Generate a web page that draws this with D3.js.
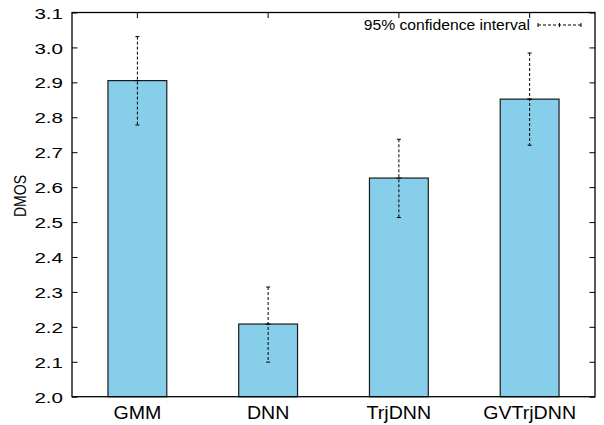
<!DOCTYPE html>
<html>
<head>
<meta charset="utf-8">
<script src="https://cdn.jsdelivr.net/npm/d3@7"></script>
<style>
  html, body { margin: 0; padding: 0; background: #fff; }
  svg text { font-family: "Liberation Sans", Arial, Helvetica, sans-serif; fill: #000; }
</style>
</head>
<body>
<svg id="chart" width="604" height="425"></svg>
<script>
const categories = ["GMM", "DNN", "TrjDNN", "GVTrjDNN"];
const dmos = [2.905, 2.208, 2.626, 2.852];
const ciLow = [2.778, 2.099, 2.513, 2.720];
const ciHigh = [3.031, 2.314, 2.737, 2.984];
const yTicks = [2.0, 2.1, 2.2, 2.3, 2.4, 2.5, 2.6, 2.7, 2.8, 2.9, 3.0, 3.1];
const legendLabel = "95% confidence interval";
const yLabel = "DMOS";

const svg = d3.select("#chart");
const L = 72, R = 595, T = 12.5, B = 396.7;

const x = d3.scaleBand().domain(categories).range([L, R]).paddingInner(0.55).paddingOuter(0.275);
const y = d3.scaleLinear().domain([2.0, 3.1]).range([B, T]);

// Axes (gnuplot style: inward ticks, mirrored)
const tickLen = 5.5;
const gL = svg.append("g").attr("transform", `translate(${L},0)`)
  .call(d3.axisLeft(y).tickValues(yTicks).tickFormat(d3.format(".1f")).tickSizeInner(-tickLen).tickSizeOuter(0).tickPadding(9));
const gR = svg.append("g").attr("transform", `translate(${R},0)`)
  .call(d3.axisRight(y).tickValues(yTicks).tickFormat("").tickSizeInner(-tickLen).tickSizeOuter(0));
const gT = svg.append("g").attr("transform", `translate(0,${T})`)
  .call(d3.axisTop(x).tickFormat("").tickSizeInner(-tickLen).tickSizeOuter(0));
const gB = svg.append("g").attr("transform", `translate(0,${B})`)
  .call(d3.axisBottom(x).tickSizeInner(-tickLen).tickSizeOuter(0).tickPadding(10));

[gL, gR, gT, gB].forEach(g => {
  g.select(".domain").remove();
  g.selectAll(".tick line").attr("stroke", "#000").attr("stroke-width", 1);
});
const sxTick = 1.33;
gL.selectAll(".tick text")
  .attr("font-size", 15.5).attr("font-family", "Liberation Sans, Arial, sans-serif")
  .attr("dy", "0.36em")
  .attr("x", -9 / sxTick)
  .attr("transform", `scale(${sxTick},1)`);
const sxCat = 1.12;
gB.selectAll(".tick text")
  .attr("font-size", 17.5).attr("font-family", "Liberation Sans, Arial, sans-serif")
  .attr("transform", `scale(${sxCat},1)`);

// Bars
svg.append("g").selectAll("rect").data(categories).join("rect")
  .attr("x", d => x(d))
  .attr("width", x.bandwidth())
  .attr("y", (d, i) => y(dmos[i]))
  .attr("height", (d, i) => y(2.0) - y(dmos[i]))
  .attr("fill", "#87ceeb")
  .attr("stroke", "#1a1a1a")
  .attr("stroke-width", 1.2);

// Border frame
svg.append("rect").attr("x", L).attr("y", T).attr("width", R - L).attr("height", B - T)
  .attr("fill", "none").attr("stroke", "#000").attr("stroke-width", 1.3);

// Error bars
const eb = svg.append("g").selectAll("g").data(categories).join("g");
const cx = d => x(d) + x.bandwidth() / 2;
eb.append("line")
  .attr("x1", cx).attr("x2", cx)
  .attr("y1", (d, i) => y(ciHigh[i])).attr("y2", (d, i) => y(ciLow[i]))
  .attr("stroke", "#000").attr("stroke-width", 1).attr("stroke-dasharray", "3,2");
eb.append("line")
  .attr("x1", d => cx(d) - 2).attr("x2", d => cx(d) + 2)
  .attr("y1", (d, i) => y(ciHigh[i])).attr("y2", (d, i) => y(ciHigh[i]))
  .attr("stroke", "#000").attr("stroke-width", 1);
eb.append("line")
  .attr("x1", d => cx(d) - 2).attr("x2", d => cx(d) + 2)
  .attr("y1", (d, i) => y(ciLow[i])).attr("y2", (d, i) => y(ciLow[i]))
  .attr("stroke", "#000").attr("stroke-width", 1);
eb.append("line")
  .attr("x1", d => cx(d) - 2.5).attr("x2", d => cx(d) + 2.5)
  .attr("y1", (d, i) => y(dmos[i])).attr("y2", (d, i) => y(dmos[i]))
  .attr("stroke", "#000").attr("stroke-width", 1);

// Legend
const legY = 25;
const lx1 = 538, lx2 = 581;
svg.append("text").attr("transform", `translate(530,${legY}) scale(1.08,1)`).attr("dy", "0.35em")
  .attr("text-anchor", "end").attr("font-size", 14.5).text(legendLabel);
const lg = svg.append("g");
lg.append("line").attr("x1", lx1).attr("x2", lx2).attr("y1", legY).attr("y2", legY)
  .attr("stroke", "#000").attr("stroke-width", 1).attr("stroke-dasharray", "3,2");
lg.append("line").attr("x1", lx1).attr("x2", lx1).attr("y1", legY - 2).attr("y2", legY + 2).attr("stroke", "#000");
lg.append("line").attr("x1", lx2).attr("x2", lx2).attr("y1", legY - 2).attr("y2", legY + 2).attr("stroke", "#000");
lg.append("line").attr("x1", (lx1 + lx2) / 2).attr("x2", (lx1 + lx2) / 2).attr("y1", legY - 2).attr("y2", legY + 2).attr("stroke", "#000");

// Y label
svg.append("text").attr("transform", `translate(26,196) rotate(-90) scale(1,1.15)`)
  .attr("text-anchor", "middle").attr("font-size", 14).text(yLabel);
</script>
</body>
</html>
